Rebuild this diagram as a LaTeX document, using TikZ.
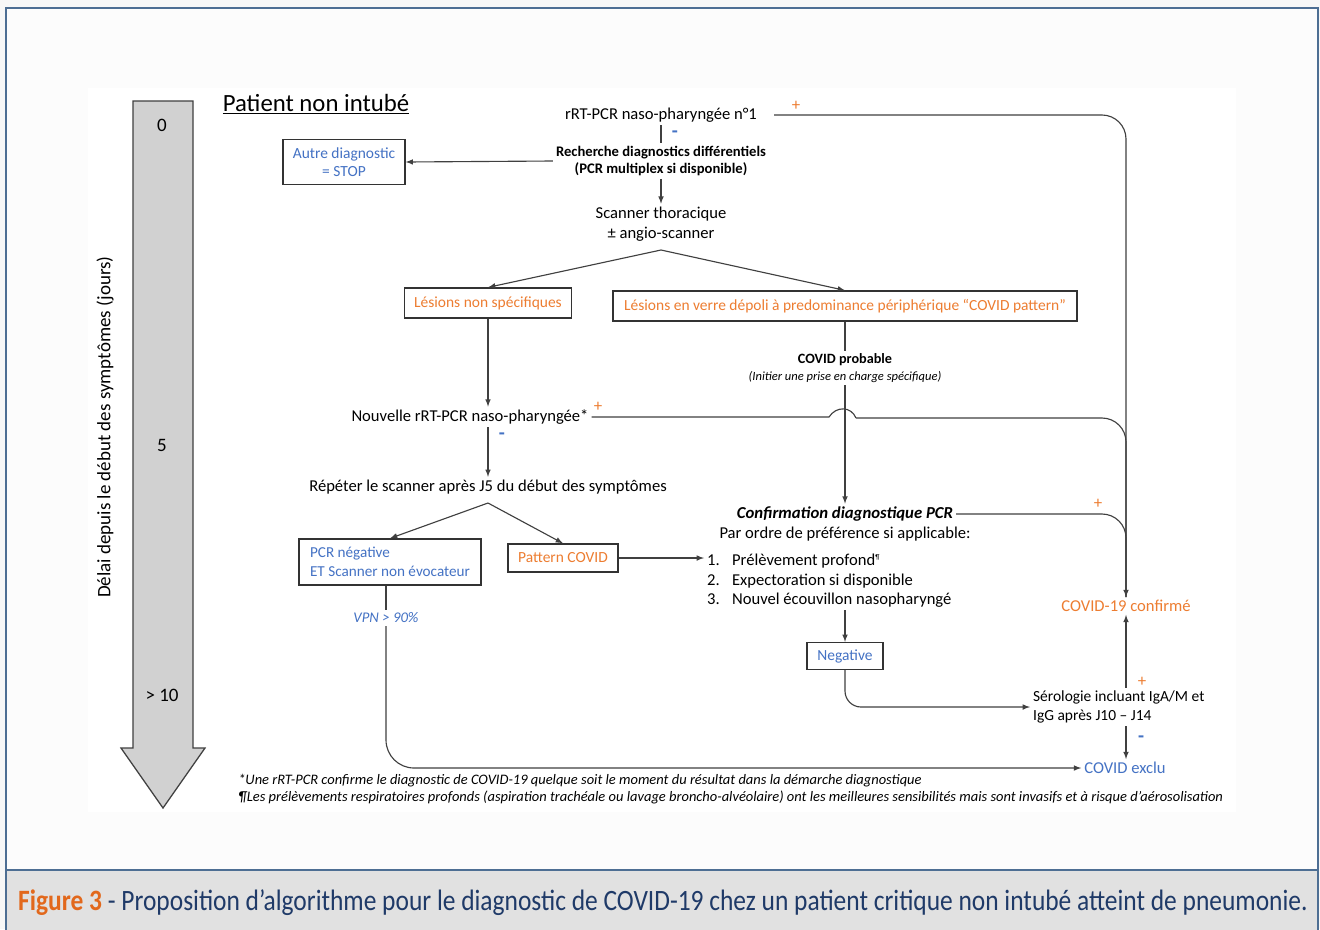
\documentclass[tikz,border=0pt]{standalone}
\usepackage{fontspec}
\setmainfont{Carlito}
\usepackage{xcolor}
\usepackage{tikz}
\usetikzlibrary{arrows,positioning,calc}

\definecolor{covorange}{HTML}{ED7D31}
\definecolor{covblue}{HTML}{4472C4}
\definecolor{framecol}{HTML}{4D6E93}
\definecolor{capgray}{HTML}{E1E1E1}
\definecolor{capnavy}{HTML}{1F3A68}
\definecolor{figorange}{HTML}{E2681C}

\begin{document}
\begin{tikzpicture}[x=0.025cm, y=-0.025cm,
    font=\fontsize{11.8}{14.2}\selectfont,
    txt/.style={inner sep=2pt, align=center},
    box/.style={rectangle, draw=black!80, line width=0.9pt, inner sep=2pt, align=center, font=\fontsize{11}{13}\selectfont},
    timelabel/.style={font=\fontsize{13.5}{16}\selectfont},
    posmark/.style={inner sep=0pt, text=covorange, font=\fontsize{12}{14}\selectfont},
    negmark/.style={inner sep=0pt, text=covblue, font=\fontsize{14}{16}\selectfont\bfseries},
    note/.style={anchor=west, inner sep=0pt, font=\fontsize{10.3}{12}\selectfont\itshape},
    line/.style={draw, line width=0.8pt, color=black!75},
    arrow/.style={line, -latex},
    timearrow/.style={draw=black!75, line width=0.9pt, fill=black!18}
]
    \useasboundingbox (0,0) rectangle (1320,929);
    \fill[white!97!black] (0,0) rectangle (1320,929);
    \draw[framecol, line width=1.4pt, fill=white!99!black] (6,8) rectangle (1318,960);
    \fill[white] (88,88) rectangle (1236,812);
    \draw[framecol, line width=1.4pt, fill=capgray] (6,870) rectangle (1318,960);
    \node (caption) at (663,903) {\fontsize{21}{25}\selectfont\scalebox{0.862}[1]{\textcolor{figorange}{\textbf{Figure 3}} \textcolor{capnavy}{- Proposition d’algorithme pour le diagnostic de COVID-19 chez un patient critique non intubé atteint de pneumonie.}}};

    \path[timearrow] (133,101) -- (193,101) -- (193,748) -- (205,748) -- (163,808) -- (121,748) -- (133,748) -- cycle;
    \node[timelabel] (t0) at (162,125) {0};
    \node[timelabel] (t5) at (162,445) {5};
    \node[timelabel] (t10) at (162,695) {> 10};
    \node[rotate=90, timelabel] (delai) at (105,427) {Délai depuis le début des symptômes (jours)};
    \node[font=\fontsize{17.6}{20}\selectfont] (title) at (316,104) {\underline{Patient non intubé}};

    \node[txt] (n1) at (661,115) {rRT-PCR naso-pharyngée n°1};
    \node[txt, font=\fontsize{10.4}{12.2}\selectfont\bfseries] (rech) at (661,161) {Recherche diagnostics différentiels\\(PCR multiplex si disponible)};
    \node[box, text=covblue, minimum width=3.05cm, minimum height=1.125cm] (autre) at (344,162) {Autre diagnostic\\= STOP};
    \node[txt] (scan) at (661,224) {Scanner thoracique\\± angio-scanner};
    \coordinate (split1) at (661,250);
    \node[box, text=covorange, minimum width=4.175cm, minimum height=0.75cm] (lesnon) at (488,303) {Lésions non spécifiques};
    \node[box, text=covorange, minimum width=11.6cm, minimum height=0.75cm] (verre) at (845,306) {Lésions en verre dépoli à predominance périphérique “COVID pattern”};
    \node[txt, font=\fontsize{10.1}{11.5}\selectfont] (prob) at (845,368) {\textbf{COVID probable}\\{\fontsize{8.9}{10}\selectfont\itshape (Initier une prise en charge spécifique)}};
    \node[txt] (nouvelle) at (470,417) {Nouvelle rRT-PCR naso-pharyngée*};
    \node[txt] (repeter) at (488,487) {Répéter le scanner après J5 du début des symptômes};
    \coordinate (split2) at (488,503);
    \node[box, text=covblue, align=left, font=\fontsize{10.8}{13.5}\selectfont, minimum width=4.55cm, minimum height=1.15cm] (pcrneg) at (390,562) {PCR négative\\ET Scanner non évocateur};
    \node[box, text=covorange, minimum width=2.75cm, minimum height=0.7cm] (pattern) at (563,558) {Pattern COVID};
    \node[txt, font=\fontsize{10.5}{12}\selectfont\itshape, text=covblue] (vpn) at (386,618) {VPN > 90\%};

    \node[txt, font=\fontsize{11.9}{14}\selectfont\bfseries\itshape] (conf) at (845,514) {Confirmation diagnostique PCR};
    \node[txt] (ordre) at (845,534) {Par ordre de préférence si applicable:};
    \node[txt, anchor=west] (item1) at (704,561) {\makebox[0.625cm][l]{1.}Prélèvement profond\textsuperscript{\tiny¶}};
    \node[txt, anchor=west] (item2) at (704,581) {\makebox[0.625cm][l]{2.}Expectoration si disponible};
    \node[txt, anchor=west] (item3) at (704,600) {\makebox[0.625cm][l]{3.}Nouvel écouvillon nasopharyngé};
    \node[box, text=covblue, minimum width=1.9cm, minimum height=0.675cm] (negative) at (845,656) {Negative};
    \node[txt, text=covorange] (confirm) at (1126,606) {COVID-19 confirmé};
    \node[txt, align=left, anchor=west, font=\fontsize{11}{13.5}\selectfont] (sero) at (1030,707) {Sérologie incluant IgA/M et\\IgG après J10 – J14};
    \node[txt, text=covblue] (exclu) at (1125,768) {COVID exclu};

    \node[posmark] (plus1) at (796,106) {+};
    \node[negmark] (minus1) at (675,134) {-};
    \node[posmark] (plus2) at (598,407) {+};
    \node[negmark] (minus2) at (502,436) {-};
    \node[posmark] (plus3) at (1098,504) {+};
    \node[posmark] (plus4) at (1142,682) {+};
    \node[negmark] (minus4) at (1141,739) {-};

    \node[note] (note1) at (238,781) {*Une rRT-PCR confirme le diagnostic de COVID-19 quelque soit le moment du résultat dans la démarche diagnostique};
    \node[note] (note2) at (238,797) {¶Les prélèvements respiratoires profonds (aspiration trachéale ou lavage broncho-alvéolaire) ont les meilleures sensibilités mais sont invasifs et à risque d’aérosolisation};

    \path [line] (n1) -- (rech);
    \path [arrow] (rech.west) -- (autre.east);
    \path [arrow] (rech) -- (scan);
    \path [arrow] (split1) -- (lesnon.north);
    \path [arrow] (split1) -- (verre.north);
    \path [line] (verre.south) -- (prob.north);
    \path [arrow] (prob.south) -- (conf.north);
    \path [arrow] (lesnon.south) -- (lesnon.south |- nouvelle.north);
    \path [arrow] (lesnon.south |- nouvelle.south) -- (lesnon.south |- repeter.north);
    \path [arrow] (split2) -- (pcrneg.north);
    \path [arrow] (split2) -- (pattern.north);
    \path [arrow] (pattern.east) -- (pattern.east -| item1.west);
    \path [arrow] (negative.north |- item3.south) -- (negative.north);
    \path [line] (vpn.north |- pcrneg.south) -- (vpn.north);
    \draw [arrow, rounded corners=0.7cm] (vpn.south) |- (exclu.west);
    \draw [arrow, rounded corners=0.4cm] (negative.south) |- (sero.west);
    \path [arrow] (confirm.south |- sero.north) -- (confirm.south);
    \path [arrow] (confirm.south |- sero.south) -- (confirm.south |- exclu.north);

    \draw [arrow, rounded corners=0.6cm] ([xshift=0.35cm]n1.east) -| (confirm.north);
    \coordinate (hopL) at (829,417);
    \coordinate (hopR) at (856,418);
    \draw [line] (nouvelle.east) -- (hopL) .. controls (836,406) and (851,406) .. (hopR);
    \draw [line, rounded corners=0.6cm] (hopR) -| (confirm.north);
    \draw [line, rounded corners=0.6cm] (conf.east) -| (confirm.north);
\end{tikzpicture}
\end{document}
